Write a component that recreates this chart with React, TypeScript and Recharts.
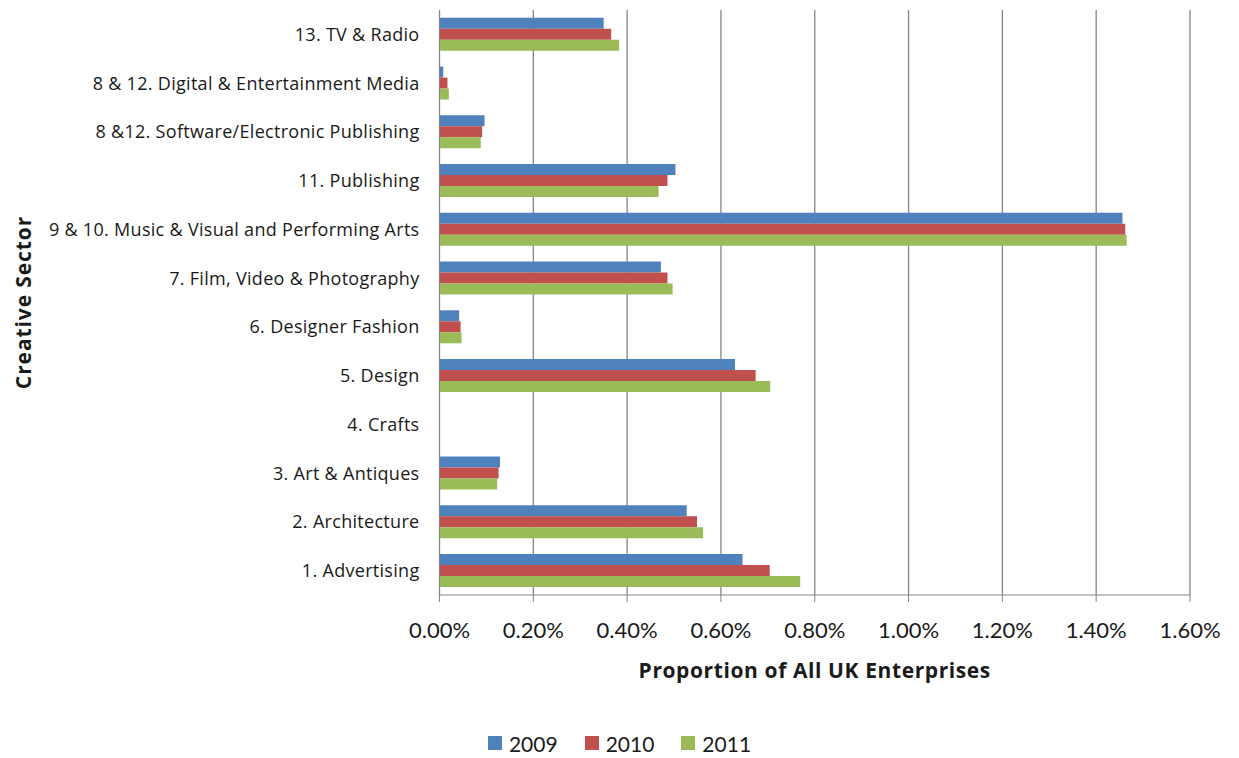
import { Bar, BarChart, CartesianGrid, Legend, XAxis, YAxis } from 'recharts';

const sectors = [
  '13. TV & Radio',
  '8 & 12. Digital & Entertainment Media',
  '8 &12. Software/Electronic Publishing',
  '11. Publishing',
  '9 & 10. Music & Visual and Performing Arts',
  '7. Film, Video & Photography',
  '6. Designer Fashion',
  '5. Design',
  '4. Crafts',
  '3. Art & Antiques',
  '2. Architecture',
  '1. Advertising',
];

// values in percent of all UK enterprises
const y2009 = [0.35, 0.008, 0.096, 0.503, 1.456, 0.472, 0.042, 0.63, 0, 0.129, 0.527, 0.646];
const y2010 = [0.366, 0.017, 0.091, 0.486, 1.462, 0.486, 0.045, 0.674, 0, 0.126, 0.549, 0.704];
const y2011 = [0.383, 0.02, 0.088, 0.467, 1.465, 0.497, 0.047, 0.705, 0, 0.123, 0.562, 0.769];

const xTicks = [0, 0.2, 0.4, 0.6, 0.8, 1.0, 1.2, 1.4, 1.6];

const series = [
  { key: 'y2009', name: '2009', color: '#4F81BD' },
  { key: 'y2010', name: '2010', color: '#C0504D' },
  { key: 'y2011', name: '2011', color: '#9BBB59' },
];

const data = sectors.map((sector, i) => ({
  sector,
  y2009: y2009[i],
  y2010: y2010[i],
  y2011: y2011[i],
}));

const axisGray = '#868686';
const textColor = '#1a1a1a';
const wideFont = '"Open Sans", Lato, sans-serif';

function LegendContent() {
  return (
    <div
      style={{
        height: 30,
        display: 'flex',
        justifyContent: 'center',
        alignItems: 'center',
        fontSize: 21,
        color: textColor,
      }}
    >
      {series.map((s, i) => (
        <div
          key={s.key}
          style={{ display: 'flex', alignItems: 'center', marginRight: i < series.length - 1 ? 27 : 0 }}
        >
          <span style={{ width: 14, height: 14, background: s.color, marginRight: 7, display: 'inline-block' }} />
          <span>{s.name}</span>
        </div>
      ))}
    </div>
  );
}

function YTitle(props: any) {
  const vb = props.viewBox;
  const cy = vb.y + vb.height / 2;
  return (
    <text
      x={15}
      y={cy}
      transform={`rotate(-90, 15, ${cy})`}
      textAnchor="middle"
      dominantBaseline="central"
      fontSize={21}
      letterSpacing={0.9}
      fontWeight="bold"
      fontFamily={wideFont}
      fill={textColor}
    >
      Creative Sector
    </text>
  );
}

export default function App() {
  return (
    <div style={{ fontFamily: 'Lato, "Open Sans", sans-serif' }}>
      <BarChart
        width={1223}
        height={750}
        data={data}
        layout="vertical"
        margin={{ top: 2, right: 41, left: 0, bottom: 0 }}
        barCategoryGap="16%"
        barGap={0}
      >
        <CartesianGrid horizontal={false} stroke={axisGray} strokeWidth={1.3} />
        <XAxis
          type="number"
          domain={[0, 1.6]}
          ticks={xTicks}
          interval={0}
          height={133}
          tickSize={7}
          tickMargin={20}
          stroke={axisGray}
          tick={{ fill: textColor, fontSize: 22 }}
          tickFormatter={(v: number) => `${v.toFixed(2)}%`}
          label={{
            value: 'Proportion of All UK Enterprises',
            position: 'insideTop',
            offset: 68,
            fontSize: 21,
            letterSpacing: 0.6,
            fontWeight: 'bold',
            fontFamily: wideFont,
            fill: textColor,
          }}
        />
        <YAxis
          type="category"
          dataKey="sector"
          width={431.5}
          tickLine={false}
          tickSize={6}
          tickMargin={14}
          stroke={axisGray}
          interval={0}
          tick={{ fill: textColor, fontSize: 18, letterSpacing: 0.3, fontFamily: wideFont }}
          label={{ content: YTitle }}
        />
        <Legend
          verticalAlign="bottom"
          content={LegendContent}
          wrapperStyle={{ left: 0, width: 1223 }}
        />
        {series.map((s) => (
          <Bar key={s.key} dataKey={s.key} name={s.name} fill={s.color} isAnimationActive={false} />
        ))}
      </BarChart>
    </div>
  );
}
